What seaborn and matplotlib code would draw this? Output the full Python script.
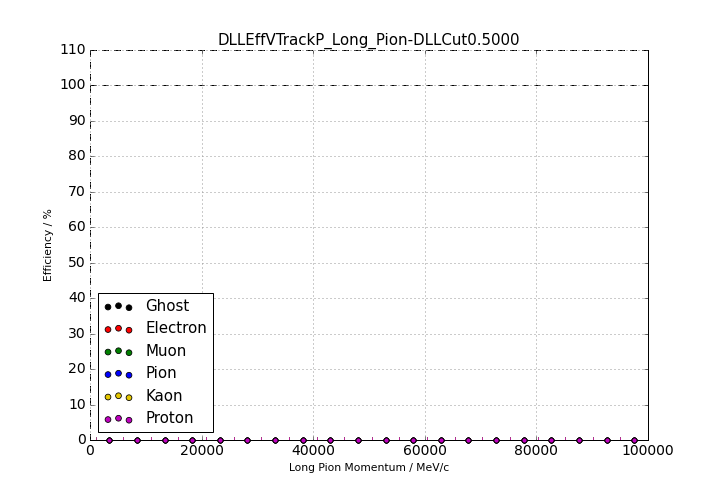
import matplotlib
matplotlib.use("Agg")
import matplotlib.pyplot as plt
import seaborn as sns
import pandas as pd

# bin centres of the momentum bins (MeV/c)
momentum = [3475, 8425, 13375, 18325, 23275, 28225, 33175, 38125, 43075, 48025,
            52975, 57925, 62875, 67825, 72775, 77725, 82675, 87625, 92575, 97525]
bin_half_width = 2475

species = ['Ghost', 'Electron', 'Muon', 'Pion', 'Kaon', 'Proton']
colours = ['black', 'red', 'green', 'blue', '#e6c800', '#bf00bf']

eff_ghost = [0, 0, 0, 0, 0, 0, 0, 0, 0, 0, 0, 0, 0, 0, 0, 0, 0, 0, 0, 0]
eff_electron = [0, 0, 0, 0, 0, 0, 0, 0, 0, 0, 0, 0, 0, 0, 0, 0, 0, 0, 0, 0]
eff_muon = [0, 0, 0, 0, 0, 0, 0, 0, 0, 0, 0, 0, 0, 0, 0, 0, 0, 0, 0, 0]
eff_pion = [0, 0, 0, 0, 0, 0, 0, 0, 0, 0, 0, 0, 0, 0, 0, 0, 0, 0, 0, 0]
eff_kaon = [0, 0, 0, 0, 0, 0, 0, 0, 0, 0, 0, 0, 0, 0, 0, 0, 0, 0, 0, 0]
eff_proton = [0, 0, 0, 0, 0, 0, 0, 0, 0, 0, 0, 0, 0, 0, 0, 0, 0, 0, 0, 0]

efficiencies = [eff_ghost, eff_electron, eff_muon, eff_pion, eff_kaon, eff_proton]

plt.style.use('classic')
fig = plt.figure(figsize=(10, 7), dpi=72, facecolor='white')
ax = fig.add_axes([0.125, 0.127, 0.775, 0.774])

for name, col, eff in zip(species, colours, efficiencies):
    df = pd.DataFrame({'p': momentum, 'eff': eff})
    ax.errorbar(df['p'], df['eff'], xerr=bin_half_width, fmt='none',
                ecolor=col, capsize=3, elinewidth=1)
    sns.scatterplot(data=df, x='p', y='eff', color=col, s=25,
                    edgecolor='black', linewidth=0.8, label=name,
                    legend=False, ax=ax, zorder=3, clip_on=False)

ax.axhline(100, color='black', ls='--', lw=1)
ax.set_xlim(0, 100000)
ax.set_ylim(0, 110)
ax.set_yticks(range(0, 111, 10))
ax.tick_params(labelsize=14)
ax.grid(True, color='#999999', ls=':', lw=1)
ax.spines['top'].set_linestyle('--')
ax.spines['left'].set_linestyle('--')

ax.set_title('DLLEffVTrackP_Long_Pion-DLLCut0.5000', fontsize=15)
ax.set_xlabel('Long Pion Momentum / MeV/c', fontsize=10.7)
ax.set_ylabel('Efficiency / %', fontsize=10.7)

ax.legend(loc='lower left', scatterpoints=3, fontsize=15, handletextpad=0.8,
          handlelength=2.0, labelspacing=0.5, markerscale=1.15)

fig.savefig('out.png', dpi=72, facecolor='white')
